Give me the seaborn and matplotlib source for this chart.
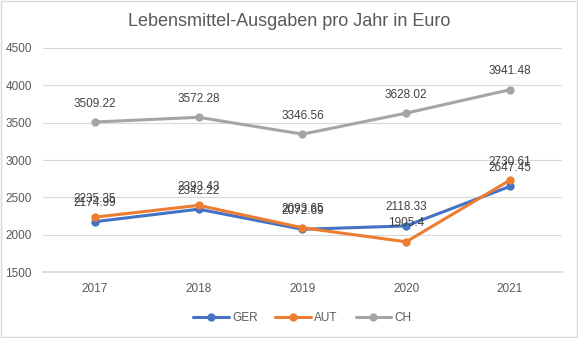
import matplotlib
matplotlib.use("Agg")
import matplotlib.pyplot as plt
import seaborn as sns
import pandas as pd
from matplotlib.patches import Rectangle

years = ["2017", "2018", "2019", "2020", "2021"]
ger = [2174.99, 2342.22, 2072.69, 2118.33, 2647.45]
aut = [2235.35, 2393.43, 2093.65, 1905.4, 2730.61]
ch = [3509.22, 3572.28, 3346.56, 3628.02, 3941.48]
series_names = ["GER", "AUT", "CH"]
colors = ["#4472C4", "#ED7D31", "#A5A5A5"]

df = pd.concat([
    pd.DataFrame({"Jahr": years, "Wert": vals, "Land": name})
    for name, vals in zip(series_names, [ger, aut, ch])
])

sns.set_theme(style="white")
plt.rcParams['font.family'] = ['Liberation Sans', 'DejaVu Sans']

fig = plt.figure(figsize=(5.78, 3.38), dpi=100)
ax = fig.add_axes([0.0744, 0.195, 0.8976, 0.663])

sns.lineplot(data=df, x="Jahr", y="Wert", hue="Land", palette=colors,
             marker="o", markersize=6, markeredgewidth=0, linewidth=2.2,
             ax=ax, sort=False)

for name, vals in zip(series_names, [ger, aut, ch]):
    for i, v in enumerate(vals):
        ax.annotate(f"{v:g}", (i, v), xytext=(0, 9), textcoords="offset points",
                    ha="center", va="bottom", fontsize=8.5, color="#404040")

ax.set_ylim(1500, 4500)
ax.set_yticks([1500, 2000, 2500, 3000, 3500, 4000, 4500])
ax.set_xlim(-0.5, 4.5)
ax.grid(axis="y", color="#D9D9D9", linewidth=0.8)
ax.set_axisbelow(True)
for s in ["top", "right", "left"]:
    ax.spines[s].set_visible(False)
ax.spines["bottom"].set_color("#D9D9D9")
ax.tick_params(axis="both", labelsize=8.5, colors="#595959", length=0, pad=8)
ax.set_xlabel("")
ax.set_ylabel("")

fig.text(0.5, 0.935, "Lebensmittel-Ausgaben pro Jahr in Euro", ha="center",
         va="center", fontsize=13, color="#595959")

handles, labels = ax.get_legend_handles_labels()
ax.legend(handles, labels, loc="center", bbox_to_anchor=(0.5, -0.205),
          ncol=3, frameon=False, fontsize=8.5, labelcolor="#595959",
          handlelength=3, columnspacing=1.5, handletextpad=0.3)

fig.patches.append(Rectangle((0.001, 0.002), 0.997, 0.995, transform=fig.transFigure,
                             fill=False, edgecolor="#D9D9D9", linewidth=1))

fig.savefig("out.png", dpi=100)
